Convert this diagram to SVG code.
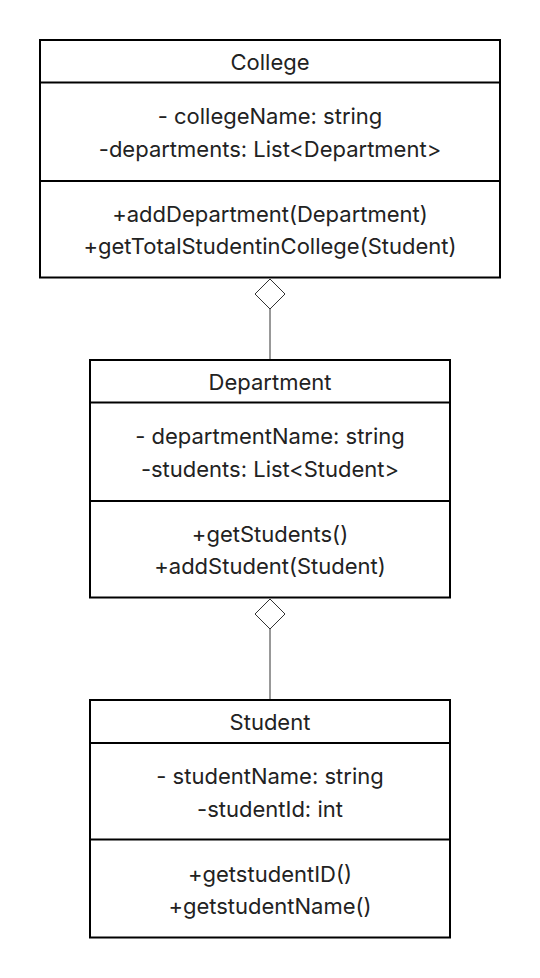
<svg xmlns="http://www.w3.org/2000/svg" width="540" height="978" viewBox="0 0 540 978">
<style>
.box{fill:#fff;stroke:#000;stroke-width:2}
.sep{stroke:#000;stroke-width:2}
text{font-family:Inter,"Noto Sans",sans-serif;font-size:22px;fill:#222;text-anchor:middle}
.conn{stroke:#333;stroke-width:1;fill:none}
.dia{fill:#fff;stroke:#333;stroke-width:1}
</style>
<rect width="540" height="978" fill="#fff"/>
<g id="connectors">
<line class="conn" x1="270" y1="309" x2="270" y2="360"/>
<path class="dia" d="M270 279 L285 294 L270 309 L255 294 Z"/>
<line class="conn" x1="270" y1="629" x2="270" y2="700"/>
<path class="dia" d="M270 599 L285 614 L270 629 L255 614 Z"/>
</g>
<g id="college">
<rect class="box" x="40" y="40" width="460" height="237.5"/>
<line class="sep" x1="40" y1="82.5" x2="500" y2="82.5"/>
<line class="sep" x1="40" y1="181" x2="500" y2="181"/>
<text x="270" y="70">College</text>
<text x="270" y="124">- collegeName: string</text>
<text x="270" y="157">-departments: List&lt;Department&gt;</text>
<text x="270" y="222">+addDepartment(Department)</text>
<text x="270" y="254">+getTotalStudentinCollege(Student)</text>
</g>
<g id="department">
<rect class="box" x="90" y="360" width="360" height="237.5"/>
<line class="sep" x1="90" y1="402.5" x2="450" y2="402.5"/>
<line class="sep" x1="90" y1="501" x2="450" y2="501"/>
<text x="270" y="390">Department</text>
<text x="270" y="444">- departmentName: string</text>
<text x="270" y="477">-students: List&lt;Student&gt;</text>
<text x="270" y="542">+getStudents()</text>
<text x="270" y="574">+addStudent(Student)</text>
</g>
<g id="student">
<rect class="box" x="90" y="700" width="360" height="237.5"/>
<line class="sep" x1="90" y1="743" x2="450" y2="743"/>
<line class="sep" x1="90" y1="839.5" x2="450" y2="839.5"/>
<text x="270" y="730">Student</text>
<text x="270" y="784">- studentName: string</text>
<text x="270" y="817">-studentId: int</text>
<text x="270" y="882">+getstudentID()</text>
<text x="270" y="914">+getstudentName()</text>
</g>
</svg>
